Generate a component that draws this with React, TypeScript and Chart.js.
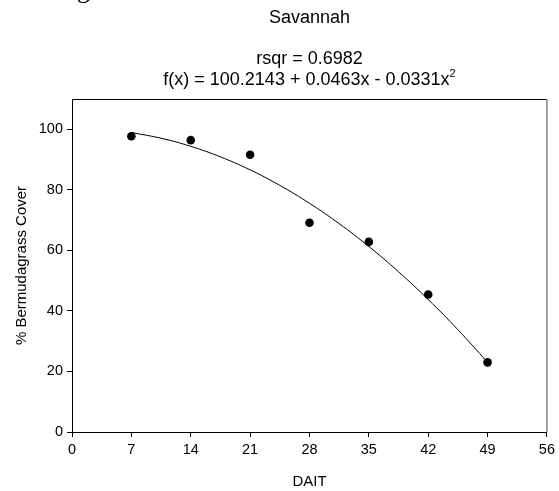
import React, { useEffect, useRef } from "react";
import { Chart, registerables } from "chart.js";

Chart.register(...registerables);

const chartTitle = "Savannah";
const statLine = "rsqr = 0.6982";
const fitLineMain = "f(x) = 100.2143 + 0.0463x - 0.0331x";
const fitLineSup = "2";
const xTitle = "DAIT";
const yTitle = "% Bermudagrass Cover";

const xTicks = [0, 7, 14, 21, 28, 35, 42, 49, 56];
const yTicks = [0, 20, 40, 60, 80, 100];

const obsDays = [7, 14, 21, 28, 35, 42, 49];
const obsCover = [97.7, 96.4, 91.6, 69.1, 62.8, 45.4, 23.0];

const fitDays = [7, 10.5, 14, 17.5, 21, 24.5, 28, 31.5, 35, 38.5, 42, 45.5, 49];
const fitCover = [98.92, 97.05, 94.37, 90.89, 86.59, 81.48, 75.56, 68.83, 61.29, 52.93, 43.77, 33.8, 23.01];

const FONT = "'Liberation Sans', Arial, sans-serif";

export default function App() {
  const ref = useRef<HTMLCanvasElement>(null);
  useEffect(() => {
    const canvas = ref.current!;
    const textPlugin = {
      id: "texts",
      afterDraw(chart: any) {
        const ctx = chart.ctx as CanvasRenderingContext2D;
        const a = chart.chartArea;
        const cx = (a.left + a.right) / 2;
        ctx.save();
        // frame top and right
        ctx.lineWidth = 1;
        ctx.strokeStyle = "#000";
        ctx.beginPath();
        ctx.moveTo(a.left, a.top + 0.5);
        ctx.lineTo(a.right, a.top + 0.5);
        ctx.stroke();
        ctx.strokeStyle = "#808080";
        ctx.lineWidth = 1.5;
        ctx.beginPath();
        ctx.moveTo(a.right, a.top);
        ctx.lineTo(a.right, a.bottom);
        ctx.stroke();

        ctx.fillStyle = "#000";
        ctx.textBaseline = "alphabetic";
        ctx.textAlign = "center";
        ctx.font = `18px ${FONT}`;
        ctx.fillText(chartTitle, cx, 22.5);
        ctx.fillText(statLine, cx, 64);
        const mainW = ctx.measureText(fitLineMain).width;
        ctx.font = `11px ${FONT}`;
        const supW = ctx.measureText(fitLineSup).width;
        const total = mainW + supW;
        const x0 = cx - total / 2;
        ctx.textAlign = "left";
        ctx.font = `18px ${FONT}`;
        ctx.fillText(fitLineMain, x0, 84.5);
        ctx.font = `11px ${FONT}`;
        ctx.fillText(fitLineSup, x0 + mainW, 77);

        ctx.textAlign = "center";
        ctx.font = `15px ${FONT}`;
        ctx.fillText(xTitle, cx, 486);
        ctx.save();
        ctx.translate(26, (a.top + a.bottom) / 2);
        ctx.rotate(-Math.PI / 2);
        ctx.fillText(yTitle, 0, 0);
        ctx.restore();

        ctx.font = `26px 'Liberation Serif', serif`;
        ctx.textAlign = "left";
        ctx.fillText("g", 77, -2);
        ctx.restore();
      },
    };

    const chart = new Chart(canvas, {
      type: "scatter",
      data: {
        datasets: [
          {
            type: "line",
            data: fitDays.map((d, i) => ({ x: d, y: fitCover[i] })),
            borderColor: "#000",
            borderWidth: 1,
            pointRadius: 0,
            tension: 0.4,
            fill: false,
          } as any,
          {
            type: "scatter",
            data: obsDays.map((d, i) => ({ x: d, y: obsCover[i] })),
            backgroundColor: "#000",
            borderColor: "#000",
            pointRadius: 4.3,
            pointBorderWidth: 0,
          },
        ],
      },
      options: {
        responsive: false,
        animation: false,
        layout: { padding: { top: 99, right: 11, left: 0, bottom: 0 } },
        plugins: { legend: { display: false }, tooltip: { enabled: false }, title: { display: false } },
        scales: {
          x: {
            type: "linear",
            min: 0,
            max: 56,
            afterBuildTicks: (s: any) => {
              s.ticks = xTicks.map((v) => ({ value: v }));
            },
            afterFit: (s: any) => {
              s.height = 59;
            },
            ticks: { color: "#000", font: { family: FONT, size: 14.5 }, padding: 4, maxRotation: 0, autoSkip: false },
            grid: { drawOnChartArea: false, drawTicks: true, tickLength: 5, color: "#000" },
            border: { display: true, color: "#000", width: 1 },
          },
          y: {
            type: "linear",
            min: 0,
            max: 110,
            afterBuildTicks: (s: any) => {
              s.ticks = yTicks.map((v) => ({ value: v }));
            },
            afterFit: (s: any) => {
              s.width = 72;
            },
            ticks: { color: "#000", font: { family: FONT, size: 14.5 }, padding: 4, autoSkip: false },
            grid: { drawOnChartArea: false, drawTicks: true, tickLength: 5, color: "#000" },
            border: { display: true, color: "#000", width: 1 },
          },
        },
      },
      plugins: [textPlugin],
    });
    return () => chart.destroy();
  }, []);
  return (
    <div style={{ position: "fixed", left: 0, top: 0, width: 559, height: 491, background: "#fff" }}>
      <canvas ref={ref} width={559} height={491} />
    </div>
  );
}
